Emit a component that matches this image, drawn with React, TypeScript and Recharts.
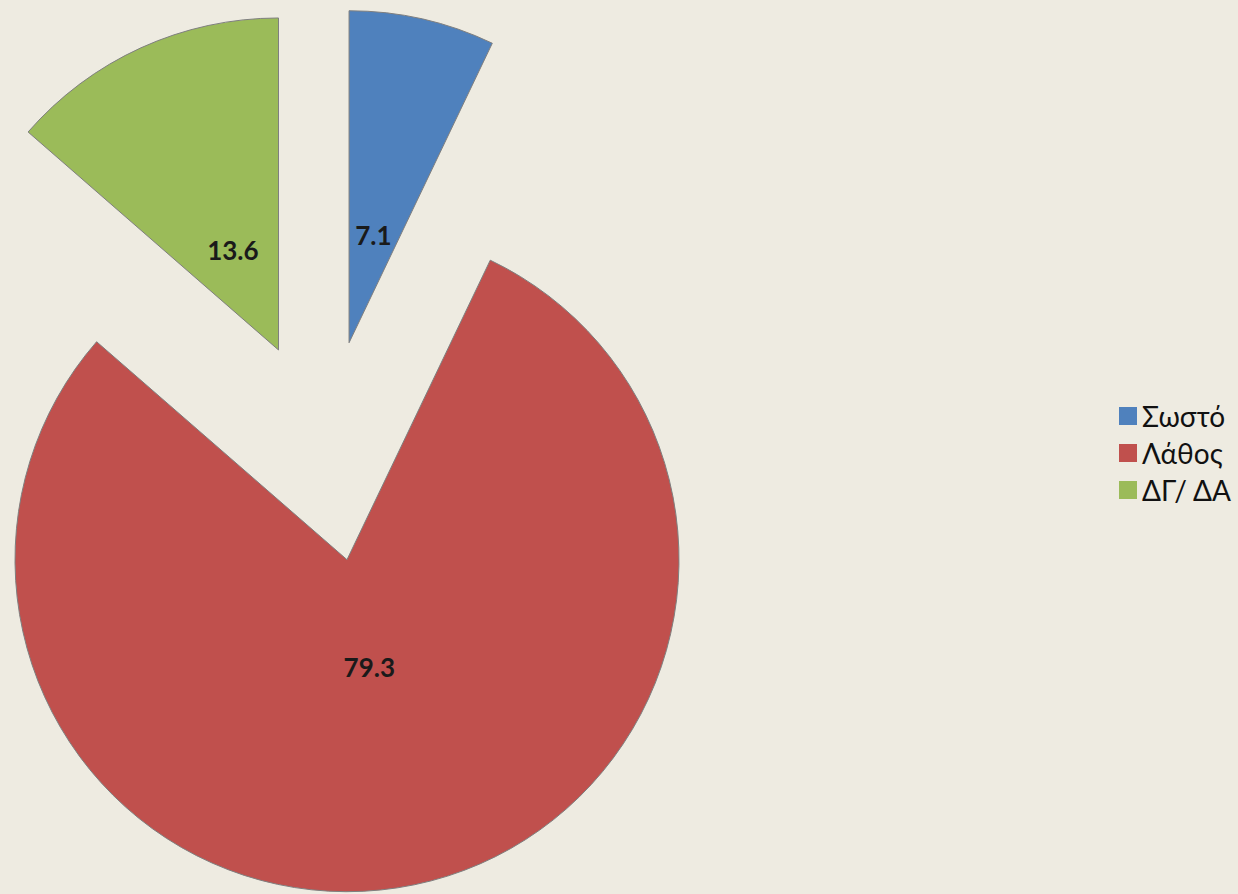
import { PieChart, Pie, Cell, Legend } from "recharts";

const categories = ["Σωστό", "Λάθος", "ΔΓ/ ΔΑ"];
const values = [7.1, 79.3, 13.6];
const valueLabels = ["7.1", "79.3", "13.6"];

const COLORS = ["#4F81BD", "#C0504D", "#9BBB59"];
const RAD = Math.PI / 180;

const CX = 324.5;
const CY = 451;
const RADIUS = 332;
const EXPLODE = 111;
const LABEL_R = 110;

const data = categories.map((name, i) => ({ name, value: values[i] }));

// mid angle of each slice (recharts degrees, clockwise from 12 o'clock)
const total = values.reduce((a, b) => a + b, 0);
const midAngles = values.map((v, i) => {
    const before = values.slice(0, i).reduce((a, b) => a + b, 0);
    return 90 - (360 * (before + v / 2)) / total;
});

function renderLegend() {
    return (
        <div style={{ fontFamily: "Lato, 'Open Sans', sans-serif", fontSize: 28, color: "#111" }}>
            {categories.map((c, i) => (
                <div key={c} style={{ display: "flex", alignItems: "center", height: 37 }}>
                    <span
                        style={{
                            display: "inline-block",
                            width: 18,
                            height: 18,
                            background: COLORS[i],
                            marginRight: 5,
                        }}
                    />
                    <span>{c}</span>
                </div>
            ))}
        </div>
    );
}

export default function App() {
    return (
        <div style={{ position: "absolute", left: 0, top: 0, width: 1238, height: 894, background: "#EEEBE1" }}>
            <PieChart width={1238} height={894} margin={{ top: 0, right: 0, bottom: 0, left: 0 }}>
                {data.map((_, i) => {
                    // explode each slice along its own mid angle
                    const dx = EXPLODE * Math.cos(-midAngles[i] * RAD);
                    const dy = EXPLODE * Math.sin(-midAngles[i] * RAD);
                    return (
                        <Pie
                            key={`pie-${i}`}
                            data={data}
                            dataKey="value"
                            nameKey="name"
                            cx={CX + dx}
                            cy={CY + dy}
                            outerRadius={RADIUS}
                            startAngle={90}
                            endAngle={-270}
                            isAnimationActive={false}
                            labelLine={false}
                            label={(p: any) =>
                                p.index === i ? (
                                    <text
                                        x={p.cx + LABEL_R * Math.cos(-p.midAngle * RAD)}
                                        y={p.cy + LABEL_R * Math.sin(-p.midAngle * RAD)}
                                        textAnchor="middle"
                                        dominantBaseline="central"
                                        fontFamily="Lato, 'Open Sans', sans-serif"
                                        fontSize={26}
                                        fontWeight="bold"
                                        fill="#1a1a1a"
                                    >
                                        {valueLabels[i]}
                                    </text>
                                ) : null
                            }
                        >
                            {data.map((_, j) => (
                                <Cell
                                    key={`cell-${i}-${j}`}
                                    fill={j === i ? COLORS[j] : "transparent"}
                                    stroke={j === i ? "#7f7f7f" : "none"}
                                    strokeWidth={1}
                                />
                            ))}
                        </Pie>
                    );
                })}
                <Legend
                    content={renderLegend}
                    wrapperStyle={{ position: "absolute", left: 1119, top: 397, width: 130 }}
                />
            </PieChart>
        </div>
    );
}
